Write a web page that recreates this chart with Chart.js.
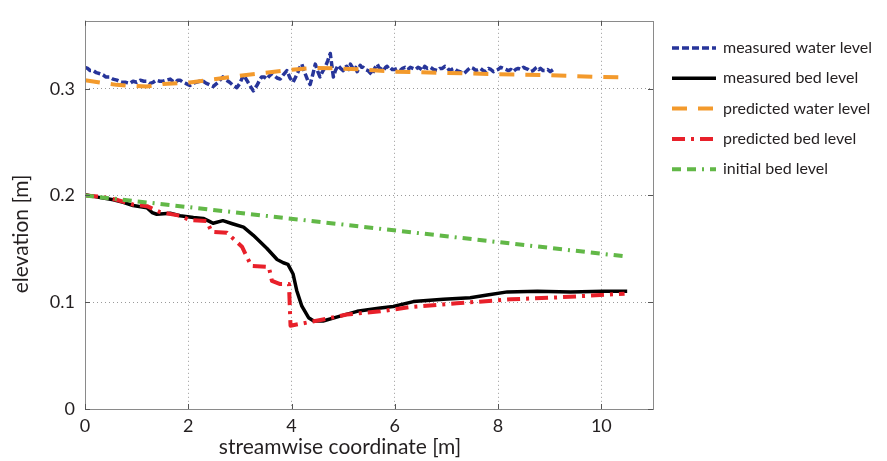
<!DOCTYPE html>
<html>
<head>
<meta charset="utf-8">
<script src="https://cdn.jsdelivr.net/npm/chart.js@4.4.1/dist/chart.umd.min.js"></script>
<style>
  html, body { margin: 0; padding: 0; background: #fff; }
</style>
</head>
<body>
<canvas id="chart" width="887" height="461"></canvas>
<script>
// streamwise coordinate [m] / elevation [m]
const measuredWaterX = [
  0.00, 0.05, 0.10, 0.16, 0.22, 0.29, 0.35, 0.40, 0.47, 0.54, 0.62, 0.70, 0.78, 0.87, 0.93, 1.00, 1.07, 1.14, 1.20, 1.26,
  1.32, 1.38, 1.45, 1.51, 1.58, 1.65, 1.70, 1.75, 1.80, 1.84, 1.90, 1.95, 2.03, 2.09, 2.15, 2.22, 2.29, 2.35, 2.40, 2.48,
  2.53, 2.58, 2.63, 2.67, 2.74, 2.80, 2.87, 2.94, 3.00, 3.07, 3.12, 3.17, 3.22, 3.26, 3.30, 3.34, 3.38, 3.42, 3.47, 3.52,
  3.57, 3.62, 3.67, 3.72, 3.78, 3.84, 3.91, 3.97, 4.03, 4.08, 4.12, 4.16, 4.20, 4.24, 4.28, 4.32, 4.36, 4.41, 4.46, 4.50,
  4.55, 4.60, 4.65, 4.70, 4.75, 4.78, 4.81, 4.85, 4.90, 4.95, 5.00, 5.04, 5.07, 5.11, 5.14, 5.20, 5.24, 5.27, 5.30, 5.33,
  5.36, 5.39, 5.43, 5.48, 5.52, 5.56, 5.61, 5.66, 5.69, 5.72, 5.75, 5.78, 5.82, 5.85, 5.88, 5.91, 5.95, 6.00, 6.05, 6.10,
  6.15, 6.20, 6.25, 6.30, 6.35, 6.40, 6.45, 6.49, 6.54, 6.58, 6.63, 6.69, 6.75, 6.82, 6.87, 6.92, 6.97, 7.01, 7.06, 7.10,
  7.15, 7.20, 7.26, 7.33, 7.38, 7.42, 7.47, 7.52, 7.57, 7.62, 7.66, 7.71, 7.76, 7.81, 7.86, 7.91, 7.95, 8.00, 8.05, 8.10,
  8.15, 8.20, 8.25, 8.29, 8.34, 8.39, 8.44, 8.49, 8.53, 8.58, 8.63, 8.68, 8.72, 8.75, 8.79, 8.82, 8.87, 8.92, 8.96, 9.01,
  9.04, 9.07];
const measuredWaterY = [
  0.320, 0.319, 0.317, 0.317, 0.315, 0.314, 0.313, 0.311, 0.311, 0.309, 0.308, 0.306, 0.306, 0.305, 0.307, 0.306, 0.308, 0.307, 0.307, 0.305,
  0.306, 0.308, 0.307, 0.307, 0.308, 0.309, 0.307, 0.306, 0.308, 0.308, 0.306, 0.305, 0.303, 0.305, 0.306, 0.307, 0.307, 0.305, 0.304, 0.302,
  0.304, 0.306, 0.309, 0.311, 0.308, 0.306, 0.303, 0.301, 0.305, 0.313, 0.309, 0.305, 0.301, 0.298, 0.301, 0.304, 0.308, 0.311, 0.311, 0.309,
  0.312, 0.314, 0.312, 0.310, 0.309, 0.313, 0.317, 0.310, 0.306, 0.311, 0.315, 0.320, 0.323, 0.317, 0.312, 0.307, 0.304, 0.313, 0.323, 0.317,
  0.311, 0.316, 0.320, 0.326, 0.333, 0.322, 0.311, 0.317, 0.322, 0.319, 0.317, 0.320, 0.321, 0.318, 0.323, 0.318, 0.320, 0.316, 0.319, 0.322,
  0.320, 0.320, 0.318, 0.317, 0.315, 0.313, 0.319, 0.323, 0.320, 0.319, 0.318, 0.317, 0.320, 0.321, 0.319, 0.320, 0.318, 0.318, 0.319, 0.317,
  0.319, 0.320, 0.318, 0.320, 0.319, 0.318, 0.320, 0.319, 0.317, 0.321, 0.319, 0.320, 0.318, 0.317, 0.319, 0.319, 0.321, 0.320, 0.317, 0.318,
  0.319, 0.317, 0.316, 0.314, 0.316, 0.318, 0.320, 0.319, 0.317, 0.318, 0.319, 0.317, 0.316, 0.319, 0.318, 0.316, 0.317, 0.318, 0.320, 0.319,
  0.318, 0.317, 0.318, 0.316, 0.318, 0.319, 0.318, 0.320, 0.319, 0.318, 0.316, 0.317, 0.319, 0.320, 0.318, 0.319, 0.317, 0.317, 0.318, 0.316,
  0.317, 0.318];

const measuredBedX = [0, 0.30, 0.55, 0.74, 0.93, 1.20, 1.30, 1.39, 1.65, 1.84, 2.10, 2.29, 2.40, 2.48, 2.67, 2.87, 3.07, 3.26, 3.52,
  3.72, 3.84, 3.93, 4.03, 4.10, 4.20, 4.33, 4.43, 4.61, 4.94, 5.27, 5.72, 5.97, 6.36, 6.94, 7.46, 7.79, 8.18, 8.76, 9.40, 10.04, 10.50];
const measuredBedY = [0.2006, 0.198, 0.196, 0.1936, 0.1906, 0.1885, 0.184, 0.1824, 0.1833, 0.181, 0.1794, 0.1785, 0.176, 0.174, 0.1764, 0.1733, 0.1703, 0.1627, 0.1506,
  0.140, 0.137, 0.1355, 0.1264, 0.111, 0.0963, 0.0855, 0.0824, 0.0824, 0.087, 0.0915, 0.0945, 0.096, 0.1006, 0.1027, 0.1042, 0.1067, 0.1097, 0.1103, 0.1097, 0.1103, 0.1103];

const predictedWaterX = [0, 0.29, 0.61, 0.87, 1.20, 1.51, 2.03, 2.48, 2.94, 3.46, 3.91, 4.43, 4.88, 5.40, 5.97, 6.94, 7.98, 8.95, 9.98, 10.45];
const predictedWaterY = [0.308, 0.3058, 0.3036, 0.3027, 0.302, 0.3045, 0.3058, 0.3088, 0.3118, 0.3148, 0.3173, 0.3194, 0.319, 0.318, 0.316, 0.3148, 0.3136, 0.3127, 0.311, 0.3105];

const predictedBedX = [0, 0.29, 0.61, 0.93, 1.20, 1.45, 1.84, 2.03, 2.36, 2.45, 2.75, 3.04, 3.22, 3.56, 3.62, 3.78, 3.95, 3.98,
  4.30, 4.61, 5.07, 5.72, 6.30, 7.20, 8.24, 9.14, 9.98, 10.45];
const predictedBedY = [0.200, 0.199, 0.196, 0.1915, 0.190, 0.1845, 0.181, 0.177, 0.176, 0.166, 0.165, 0.152, 0.134, 0.133, 0.120, 0.117, 0.117, 0.078,
  0.081, 0.0839, 0.0885, 0.0915, 0.0955, 0.099, 0.1027, 0.1045, 0.1067, 0.108];

const initialBedX = [0, 10.45];
const initialBedY = [0.200, 0.143];

const xTickValues = [0, 2, 4, 6, 8, 10];
const yTickValues = [0, 0.1, 0.2, 0.3];

const toPoints = (xs, ys) => xs.map((x, i) => ({ x: x, y: ys[i] }));

const FONT = 'Lato, "Open Sans", sans-serif';
const TEXT = '#231f20';

// box, inward ticks, axis titles and legend (matlab style)
const framePlugin = {
  id: 'frame',
  afterDraw(chart) {
    const ctx = chart.ctx;
    const a = chart.chartArea;
    const xs = chart.scales.x, ys = chart.scales.y;
    ctx.save();
    ctx.strokeStyle = '#8a8a8a';
    ctx.lineWidth = 1;
    ctx.strokeRect(Math.round(a.left) + 0.5, Math.round(a.top) + 0.5, Math.round(a.right - a.left), Math.round(a.bottom - a.top));

    ctx.strokeStyle = '#555';
    ctx.beginPath();
    xTickValues.forEach(v => {
      const p = Math.round(xs.getPixelForValue(v)) + 0.5;
      ctx.moveTo(p, a.bottom); ctx.lineTo(p, a.bottom - 5);
      ctx.moveTo(p, a.top); ctx.lineTo(p, a.top + 5);
    });
    yTickValues.forEach(v => {
      const p = Math.round(ys.getPixelForValue(v)) + 0.5;
      ctx.moveTo(a.left, p); ctx.lineTo(a.left + 5, p);
      ctx.moveTo(a.right, p); ctx.lineTo(a.right - 5, p);
    });
    ctx.stroke();

    // axis titles
    ctx.fillStyle = TEXT;
    ctx.font = '21px ' + FONT;
    ctx.textAlign = 'center';
    ctx.textBaseline = 'middle';
    ctx.fillText('streamwise coordinate [m]', 340, 447);
    ctx.save();
    ctx.translate(21, 234);
    ctx.rotate(-Math.PI / 2);
    ctx.fillText('elevation [m]', 0, 0);
    ctx.restore();

    // legend
    ctx.font = '16px ' + FONT;
    ctx.textAlign = 'left';
    chart.data.datasets.forEach((ds, i) => {
      const y = 48 + i * 30.3;
      ctx.save();
      ctx.strokeStyle = ds.borderColor;
      ctx.lineWidth = ds.borderWidth;
      ctx.setLineDash(ds.borderDash || []);
      ctx.beginPath();
      ctx.moveTo(672, y);
      ctx.lineTo(716, y);
      ctx.stroke();
      ctx.restore();
      ctx.fillText(ds.label, 723, y);
    });
    ctx.restore();
  }
};

new Chart(document.getElementById('chart'), {
  type: 'line',
  data: {
    datasets: [
      {
        label: 'measured water level',
        data: toPoints(measuredWaterX, measuredWaterY),
        borderColor: '#27359a',
        borderWidth: 3.5,
        borderDash: [7, 3],
        order: 4
      },
      {
        label: 'measured bed level',
        data: toPoints(measuredBedX, measuredBedY),
        borderColor: '#000000',
        borderWidth: 3.5,
        order: 3
      },
      {
        label: 'predicted water level',
        data: toPoints(predictedWaterX, predictedWaterY),
        borderColor: '#f39a2c',
        borderWidth: 4,
        borderDash: [15, 11],
        order: 2
      },
      {
        label: 'predicted bed level',
        data: toPoints(predictedBedX, predictedBedY),
        borderColor: '#e8202a',
        borderWidth: 4,
        borderDash: [13, 6, 3, 6],
        order: 1
      },
      {
        label: 'initial bed level',
        data: toPoints(initialBedX, initialBedY),
        borderColor: '#62b847',
        borderWidth: 4,
        borderDash: [9, 6, 9, 6, 2, 6],
        order: 0
      }
    ]
  },
  options: {
    responsive: false,
    animation: false,
    devicePixelRatio: 1,
    layout: { padding: { left: 0, right: 234, top: 9, bottom: 0 } },
    elements: {
      point: { radius: 0 },
      line: { tension: 0, fill: false, borderJoinStyle: 'round', borderCapStyle: 'butt' }
    },
    plugins: {
      legend: { display: false },
      tooltip: { enabled: false }
    },
    scales: {
      x: {
        type: 'linear',
        min: 0,
        max: 11,
        afterFit: s => { s.height = 52; },
        afterBuildTicks: s => { s.ticks = xTickValues.map(v => ({ value: v })); },
        ticks: { font: { family: FONT, size: 18 }, color: TEXT, padding: 6, maxRotation: 0 },
        grid: { color: '#9a9a9a', lineWidth: 1, drawTicks: false },
        border: { display: false, dash: [1, 3] }
      },
      y: {
        type: 'linear',
        min: 0,
        max: 0.3636,
        afterFit: s => { s.width = 85; },
        afterBuildTicks: s => { s.ticks = yTickValues.map(v => ({ value: v })); },
        ticks: { font: { family: FONT, size: 18 }, color: TEXT, padding: 10, callback: v => String(v) },
        grid: { color: '#9a9a9a', lineWidth: 1, drawTicks: false },
        border: { display: false, dash: [1, 3] }
      }
    }
  },
  plugins: [framePlugin]
});
</script>
</body>
</html>
